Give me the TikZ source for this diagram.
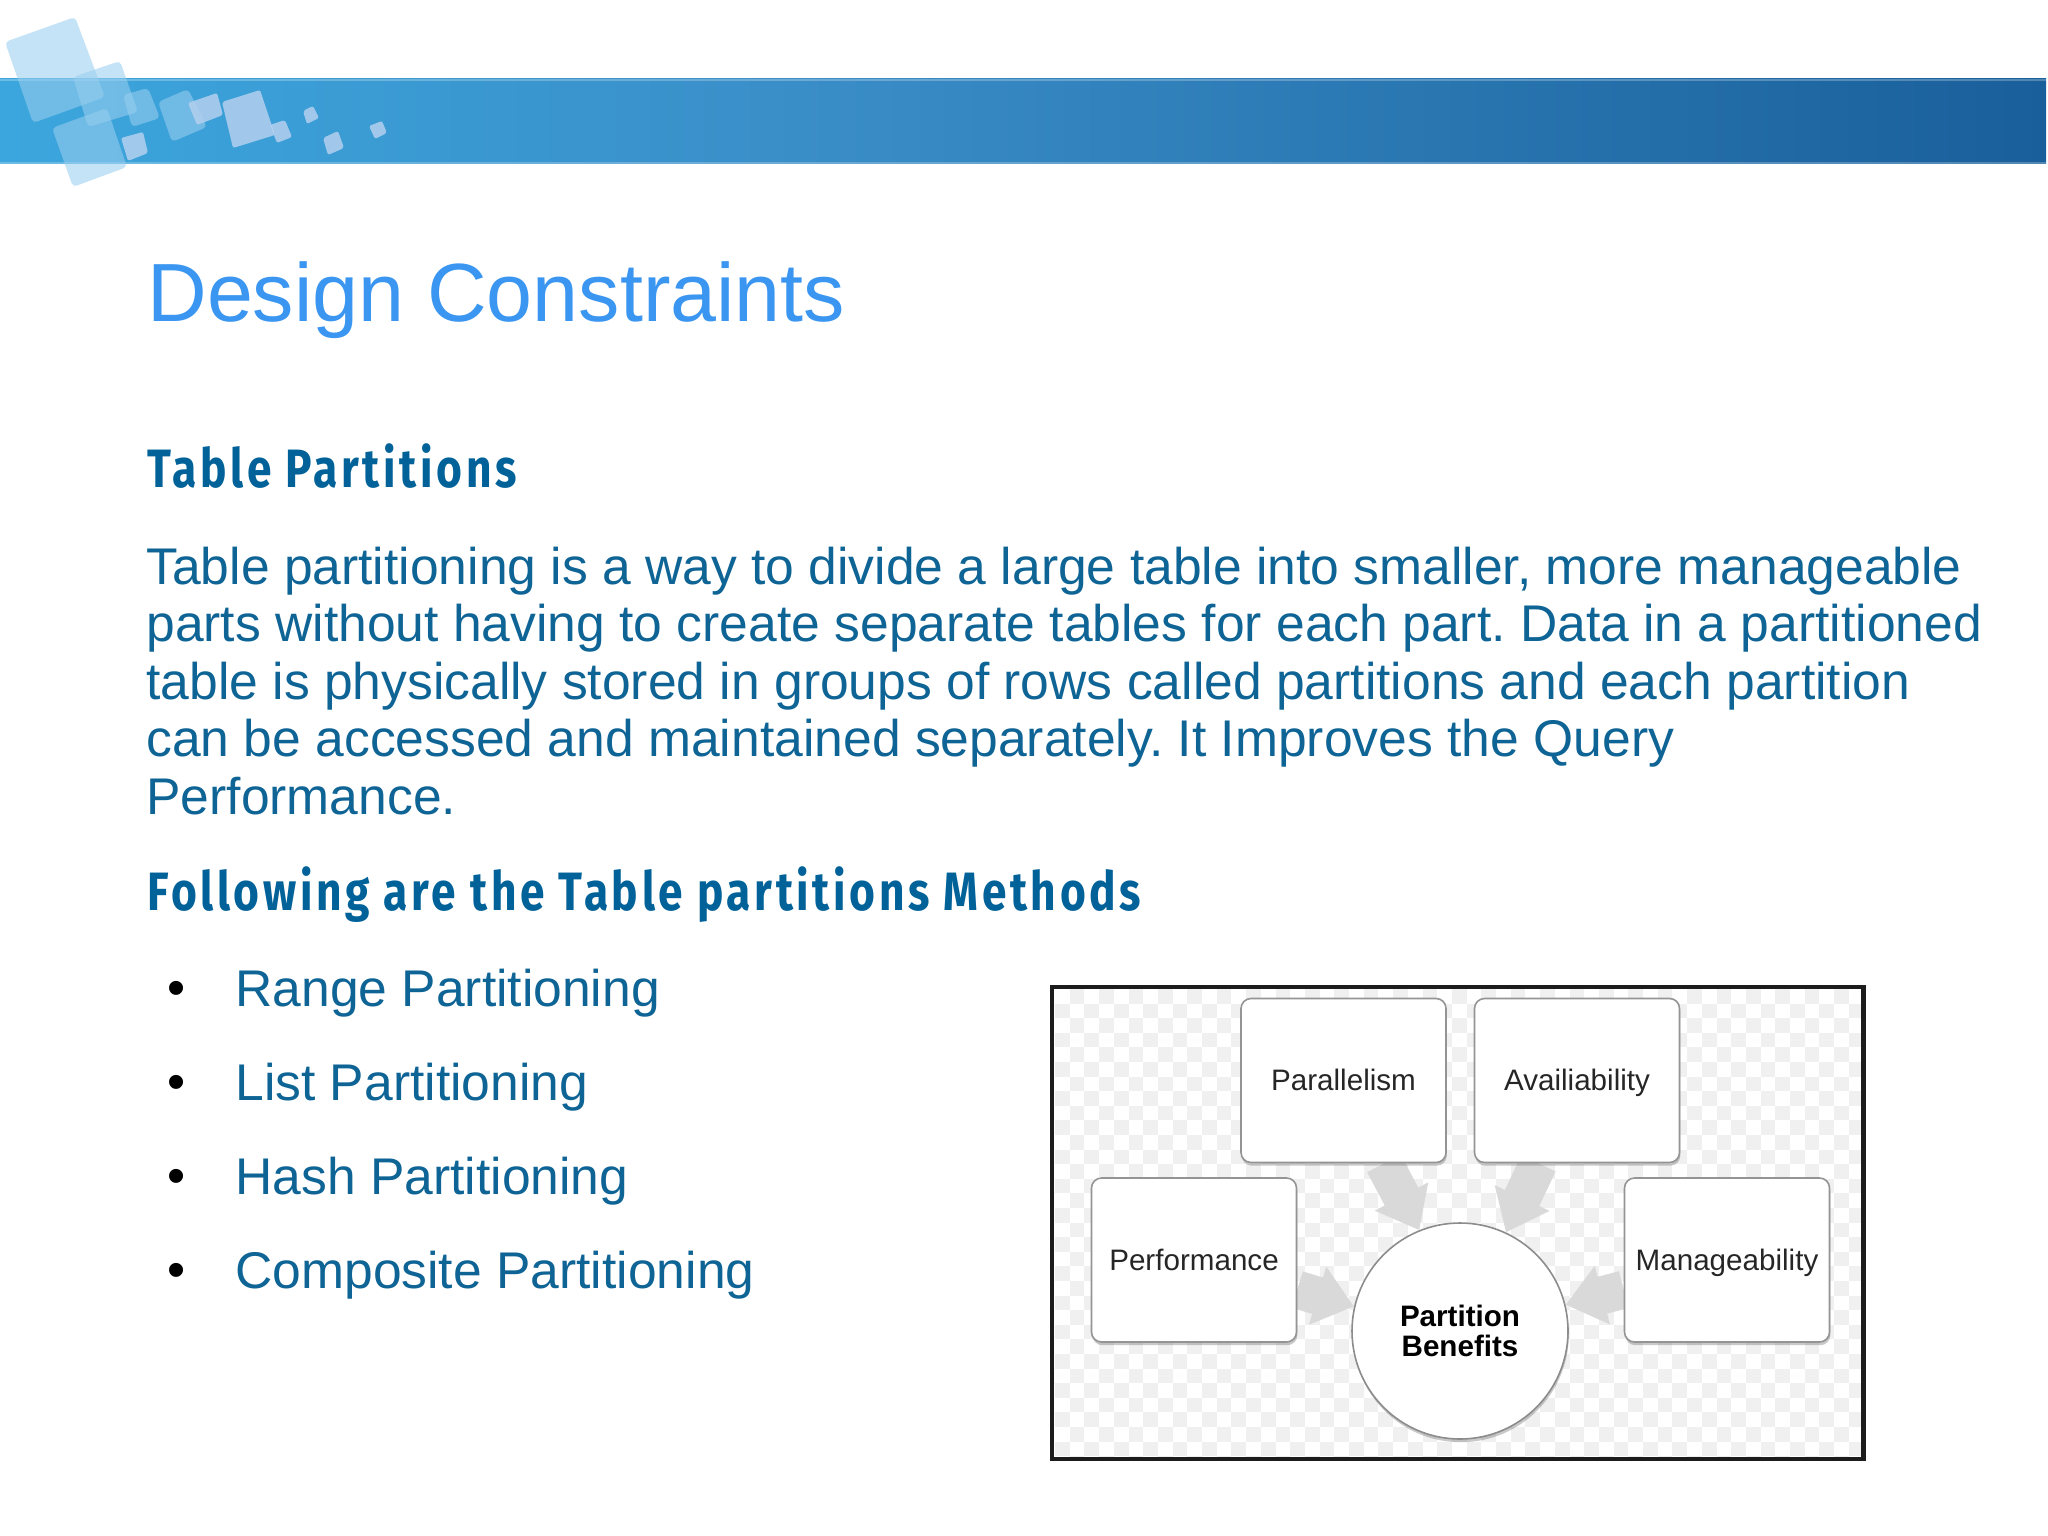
\documentclass[tikz,border=0pt]{standalone}
\usepackage{fontspec}
\setmainfont{Liberation Sans}
\newfontfamily\headfont[FakeStretch=0.82,LetterSpace=6.7]{Fira Sans}
\usetikzlibrary{arrows.meta,shadows,shapes.geometric}
\definecolor{bodyblue}{HTML}{0F6496}
\definecolor{headblue}{HTML}{006298}
\definecolor{titleblue}{HTML}{3A96F0}
\definecolor{bandL}{HTML}{3BA6DD}
\definecolor{bandM}{HTML}{3A8EC8}
\definecolor{bandR}{HTML}{195F9B}
\definecolor{sqA}{HTML}{99CFF0}
\definecolor{sqB}{HTML}{B4D0EF}
\definecolor{chk}{HTML}{F0F0F0}
\definecolor{framec}{HTML}{1C1C1C}
\pgfdeclarelayer{backdrop}
\pgfdeclarelayer{flows}
\pgfsetlayers{backdrop,flows,main}
\frenchspacing
\tikzset{
  x=0.5pt,y=-0.5pt,
  bigsq/.style={fill=sqA,fill opacity=.57,rounded corners=2pt},
  smallsq/.style={fill=sqB,fill opacity=.85,rounded corners=1pt},
  bodytext/.style={anchor=base west,inner sep=0pt,text=bodyblue,font=\fontsize{25.8pt}{28.75pt}\selectfont},
  headtext/.style={anchor=base west,inner sep=0pt,text=headblue,font=\fontsize{27pt}{30pt}\headfont\bfseries},
  bulletmark/.style={anchor=center,inner sep=0pt,text=black,font=\fontsize{25.8pt}{28.75pt}\selectfont},
  benefit/.style={draw=black!42,line width=0.8pt,fill=white,rounded corners=5pt,inner sep=0pt,
    minimum width=102.5pt,minimum height=82pt,text height=13.1pt,text depth=3pt,text=black!85,font=\fontsize{14.8pt}{15pt}\selectfont,
    drop shadow={shadow xshift=0.4pt,shadow yshift=-1.6pt,opacity=.35,fill=black!60}},
  hub/.style={circle,draw=black!45,line width=0.8pt,fill=white,inner sep=0pt,minimum size=108pt,align=center,
    text=black,font=\fontsize{14.8pt}{15pt}\selectfont\bfseries,
    drop shadow={shadow xshift=0.4pt,shadow yshift=-1.6pt,opacity=.35,fill=black!60}},
  flow/.style={draw=black!15,line width=19pt,-{Triangle[length=19pt,width=29pt]}},
}
\begin{document}
\begin{tikzpicture}
\useasboundingbox (0,0) rectangle (2048,1535);
\begin{pgfonlayer}{backdrop}
\fill[white] (0,0) rectangle (2048,1535);
\end{pgfonlayer}
% band
\shade[left color=bandL,right color=bandM] (0,79) rectangle (800,164);
\shade[left color=bandM,right color=bandR] (799,79) rectangle (2046,164);
\fill[white,opacity=.25] (0,79) rectangle (2046,81);
\fill[white,opacity=.25] (0,162) rectangle (2046,164);
% squares
\fill[bigsq] (5,42) -- (75,17) -- (105,97) -- (33,123) -- cycle;
\fill[bigsq] (73,77) -- (120,61) -- (138,112) -- (88,127) -- cycle;
\fill[bigsq] (52,128) -- (107,108) -- (127,167) -- (73,187) -- cycle;
\fill[bigsq] (123,95) -- (148,88) -- (160,118) -- (132,127) -- cycle;
\fill[bigsq] (158,102) -- (188,89) -- (207,127) -- (172,142) -- cycle;
\fill[smallsq] (188,103) -- (217,93) -- (223,115) -- (197,125) -- cycle;
\fill[smallsq] (222,102) -- (260,90) -- (275,135) -- (233,148) -- cycle;
\fill[smallsq] (121,138) -- (143,132) -- (148,153) -- (128,161) -- cycle;
\fill[smallsq] (270,125) -- (285,120) -- (292,137) -- (277,143) -- cycle;
\fill[smallsq] (303,111) -- (313,106) -- (319,118) -- (307,124) -- cycle;
\fill[smallsq] (323,138) -- (338,131) -- (344,148) -- (328,155) -- cycle;
\fill[smallsq] (369,126) -- (382,121) -- (387,133) -- (375,139) -- cycle;
% text
\node[anchor=base west,inner sep=0pt,text=titleblue,font=\fontsize{41.3pt}{45pt}\selectfont] (title) at (147,321.5) {Design Constraints};
\node[headtext] (h1) at (147,487) {Table Partitions};
\node[bodytext] (l1) at (146,584) {Table partitioning is a way to divide a large table into smaller, more manageable};
\node[bodytext] (l2) at (146,641.5) {parts without having to create separate tables for each part. Data in a partitioned};
\node[bodytext] (l3) at (146,699) {table is physically stored in groups of rows called partitions and each partition};
\node[bodytext] (l4) at (146,756.5) {can be accessed and maintained separately. It Improves the Query};
\node[bodytext] (l5) at (146,814) {Performance.};
\node[headtext] (h2) at (147,910) {Following are the Table partitions Methods};
\node[bulletmark] (b1) at (177,993) {•};
\node[bulletmark] (b2) at (177,1087) {•};
\node[bulletmark] (b3) at (177,1181) {•};
\node[bulletmark] (b4) at (177,1275) {•};
\node[bodytext] (t1) at (235,1006) {Range Partitioning};
\node[bodytext] (t2) at (235,1100) {List Partitioning};
\node[bodytext] (t3) at (235,1194) {Hash Partitioning};
\node[bodytext] (t4) at (235,1288) {Composite Partitioning};
% diagram background
\begin{pgfonlayer}{backdrop}
\begin{scope}
\clip (1051,986) rectangle (1864,1459);
\foreach \i in {0,...,56}{\foreach \j in {0,...,32}{
  \pgfmathparse{int(mod(\i+\j,2))}
  \ifnum\pgfmathresult=1
    \fill[chk] ({1055+\i*14.7},{989+\j*14.6}) rectangle ++(14.7,14.6);
  \fi
}}
\end{scope}
\end{pgfonlayer}
\draw[framec,line width=2.2pt] (1052,987) rectangle (1863.5,1459);
% nodes
\node[benefit] (par) at (1343.5,1080.5) {Parallelism};
\node[benefit] (ava) at (1577,1080.5) {Availiability};
\node[benefit] (per) at (1194,1260) {Performance};
\node[benefit] (man) at (1727,1260) {Manageability};
\node[hub] (ben) at (1460,1331) {Partition\\Benefits};
% connectors
\begin{pgfonlayer}{flows}
\draw[flow] (par.-64) -- (ben.112);
\draw[flow] (ava.-115) -- (ben.65);
\draw[flow] (per.-16) -- (ben.167);
\draw[flow] (man.196) -- (ben.14);
\end{pgfonlayer}
\end{tikzpicture}
\end{document}
